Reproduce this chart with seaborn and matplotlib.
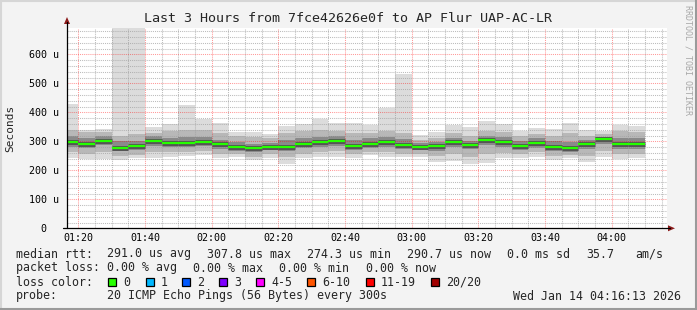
import numpy as np
import pandas as pd
import matplotlib
matplotlib.use("Agg")
import matplotlib.pyplot as plt
import seaborn as sns
from matplotlib.patches import Rectangle, Polygon
from matplotlib.lines import Line2D

# ---------------- data (values in microseconds) ----------------
start_minute = 75          # first 5-minute interval starts at 01:15
step_minutes = 5
rtt_max = [428, 339, 342, 720, 720, 350, 361, 425, 376, 362, 331, 331, 324, 352, 359, 376, 362, 365,
           356, 414, 534, 321, 332, 355, 351, 370, 359, 336, 346, 341, 364, 339, 336, 358, 354]
rtt_p90 = [340, 331, 332, 318, 325, 330, 335, 339, 338, 330, 318, 315, 312, 330, 335, 340, 335, 330,
           330, 335, 330, 305, 310, 330, 320, 335, 332, 318, 325, 320, 330, 320, 325, 335, 332]
rtt_p75 = [318, 312, 318, 300, 302, 318, 312, 315, 315, 305, 298, 292, 296, 305, 310, 315, 318, 305,
           310, 315, 308, 295, 298, 312, 302, 320, 315, 300, 310, 300, 298, 305, 315, 310, 310]
rtt_median = [298, 292, 302, 277, 284, 302, 295, 295, 299, 290, 279, 276, 282, 282, 292, 297, 302, 284,
              292, 299, 289, 282, 284, 299, 289, 306, 299, 284, 295, 282, 276, 291, 308, 291, 291]
rtt_p25 = [280, 278, 288, 265, 270, 285, 280, 280, 285, 275, 266, 262, 270, 265, 278, 280, 285, 270,
           278, 282, 275, 270, 268, 280, 272, 288, 282, 270, 278, 265, 262, 272, 290, 275, 275]
rtt_p10 = [262, 258, 262, 248, 252, 262, 262, 262, 265, 258, 255, 245, 255, 245, 258, 262, 265, 255,
           262, 262, 258, 256, 248, 255, 245, 255, 260, 255, 262, 250, 252, 250, 265, 255, 258]
rtt_min = [241, 239, 239, 235, 241, 241, 247, 249, 252, 241, 247, 234, 241, 222, 241, 245, 247, 244,
           252, 247, 247, 247, 230, 232, 222, 224, 241, 241, 247, 235, 241, 230, 247, 238, 241]

x_tick_minutes = [80, 100, 120, 140, 160, 180, 200, 220, 240]
x_tick_labels = ["01:20", "01:40", "02:00", "02:20", "02:40", "03:00", "03:20", "03:40", "04:00"]
y_tick_values = [0, 100, 200, 300, 400, 500, 600]
y_tick_labels = ["0  ", "100 u", "200 u", "300 u", "400 u", "500 u", "600 u"]

loss_labels = ["0", "1", "2", "3", "4-5", "6-10", "11-19", "20/20"]
loss_colors = ["#26ff00", "#00b8ff", "#0059ff", "#7e00ff", "#ff00ff", "#ff5500", "#ff0000", "#a10000"]

title = "Last 3 Hours from 7fce42626e0f to AP Flur UAP-AC-LR"

# ---------------- figure ----------------
sns.set_theme(style="white")
plt.rcParams["font.family"] = ["DejaVu Sans Mono", "DejaVu Sans"]

W, H = 697, 310
BG = "#f3f3f3"
fig = plt.figure(figsize=(W / 100, H / 100), dpi=100, facecolor=BG)

def fx(x):
    return x / W

def fy(y):
    return 1 - y / H

x0_px, y0_px, pw, ph = 67, 228.3, 600, 200
ax = fig.add_axes([fx(x0_px), fy(y0_px), pw / W, ph / H])
ax.set_facecolor("white")

n = len(rtt_median)
starts = start_minute + step_minutes * np.arange(n)
lo = np.array(rtt_min, float); hi = np.array(rtt_max, float)
p10 = np.array(rtt_p10, float); p90 = np.array(rtt_p90, float)
p25 = np.array(rtt_p25, float); p75 = np.array(rtt_p75, float)

ax.bar(starts, hi - lo, bottom=lo, width=step_minutes, align="edge", color="#dcdcdc", linewidth=0, zorder=1)
ax.bar(starts, p90 - p10, bottom=p10, width=step_minutes, align="edge", color="#b8b8b8", linewidth=0, zorder=1)
ax.bar(starts, p75 - p25, bottom=p25, width=step_minutes, align="edge", color="#8a8a8a", linewidth=0, zorder=1)

seg = pd.DataFrame({
    "t": np.concatenate([starts, starts + step_minutes]),
    "rtt": np.concatenate([rtt_median, rtt_median]),
    "bar": np.concatenate([np.arange(n), np.arange(n)]),
}).sort_values(["bar", "t"])

sns.lineplot(data=seg, x="t", y="rtt", units="bar", estimator=None, color="#555555",
             linewidth=3.6, legend=False, ax=ax, zorder=3, solid_capstyle="butt")
sns.lineplot(data=seg, x="t", y="rtt", units="bar", estimator=None, color="#26ff00",
             linewidth=1.6, legend=False, ax=ax, zorder=4, solid_capstyle="butt")

ax.set_xlim(76.6, 76.6 + 180)
ax.set_ylim(0, 690)
ax.set_xticks(x_tick_minutes)
ax.set_xticklabels(x_tick_labels)
ax.set_xticks(np.arange(80, 257, 5), minor=True)
ax.set_yticks(y_tick_values)
ax.set_yticklabels(y_tick_labels)
ax.set_yticks(np.arange(0, 690, 20), minor=True)
ax.set_axisbelow(False)
ax.grid(which="minor", color="#a0a0a0", alpha=0.7, linestyle=(0, (1, 1)), linewidth=0.75)
ax.grid(which="major", color="#ff0000", alpha=0.4, linestyle=(0, (1, 1)), linewidth=0.75)
ax.tick_params(which="both", length=0, labelsize=7.2, colors="black")
ax.tick_params(axis="y", pad=5.8)
ax.tick_params(axis="x", pad=3.2)
ax.set_xlabel("")
ax.set_ylabel("")
for s in ax.spines.values():
    s.set_visible(False)

# axes with arrows
fig.add_artist(Line2D([fx(67), fx(67)], [fy(228.3), fy(22)], color="black", lw=0.9))
fig.add_artist(Line2D([fx(63), fx(670)], [fy(228.3), fy(228.3)], color="black", lw=0.9))
fig.add_artist(Polygon([[fx(64), fy(24)], [fx(70), fy(24)], [fx(67), fy(17)]], closed=True,
                       facecolor="#8b1a1a", edgecolor="none", transform=fig.transFigure))
fig.add_artist(Polygon([[fx(668), fy(225.3)], [fx(668), fy(231.3)], [fx(675), fy(228.3)]], closed=True,
                       facecolor="#8b1a1a", edgecolor="none", transform=fig.transFigure))

# texts
fig.text(fx(348), fy(18), title, ha="center", va="center", fontsize=9.6)
fig.text(fx(10), fy(128), "Seconds", rotation=90, ha="center", va="center", fontsize=8)
fig.text(fx(688), fy(60), "RRDTOOL / TOBI OETIKER", rotation=270, ha="center", va="center",
         fontsize=6, color="#a8a8a8")

fs = 8.37
def t(x, y, s):
    fig.text(fx(x), fy(y), s, ha="left", va="center", fontsize=fs)

t(16, 254, "median rtt:")
t(107, 254, "291.0 us avg")
t(207, 254, "307.8 us max")
t(307, 254, "274.3 us min")
t(407, 254, "290.7 us now")
t(507, 254, "0.0 ms sd")
t(586, 254, "35.7")
t(635, 254, "am/s")

t(16, 268, "packet loss:")
t(107, 268, "0.00 % avg")
t(193, 268, "0.00 % max")
t(279, 268, "0.00 % min")
t(366, 268, "0.00 % now")

t(16, 282, "loss color:")
box_x = [108, 146, 182, 219, 256, 307, 366, 431]
for bx, lab, col in zip(box_x, loss_labels, loss_colors):
    fig.add_artist(Rectangle((fx(bx), fy(286)), 8 / W, 8 / H, transform=fig.transFigure,
                             facecolor=col, edgecolor="black", lw=0.9))
    t(bx + 15, 282, lab)

t(16, 296, "probe:")
t(107, 296, "20 ICMP Echo Pings (56 Bytes) every 300s")
t(513, 296, "Wed Jan 14 04:16:13 2026")

# 3D frame
fig.add_artist(Line2D([0, 1], [fy(0.5), fy(0.5)], color="#d6d6d6", lw=1.5))
fig.add_artist(Line2D([fx(0.5), fx(0.5)], [0, 1], color="#d6d6d6", lw=1.5))
fig.add_artist(Line2D([0, 1], [fy(309), fy(309)], color="#9a9a9a", lw=1.5))
fig.add_artist(Line2D([fx(696), fx(696)], [0, 1], color="#9a9a9a", lw=1.5))

fig.savefig("out.png", dpi=100, facecolor=BG)
